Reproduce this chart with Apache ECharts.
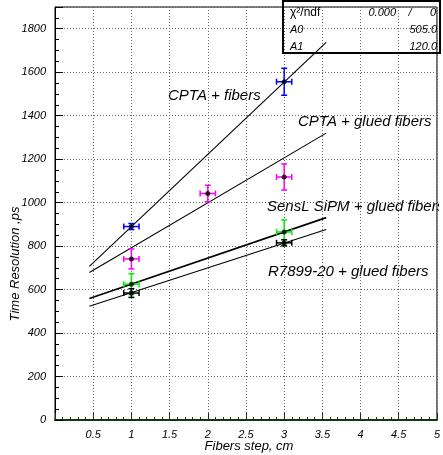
<!DOCTYPE html>
<html>
<head>
<meta charset="utf-8">
<script src="https://cdn.jsdelivr.net/npm/echarts@6/dist/echarts.min.js"></script>
<style>
  html, body { margin: 0; padding: 0; background: #fff; }
  #chart { width: 443px; height: 455px; }
</style>
</head>
<body>
<div id="chart"></div>
<script>
// Measured time resolution vs fibers step (x errors are the step uncertainty)
const xErr = 0.1;

const cptaFibersX = [1, 3];
const cptaFibersY = [890, 1556];
const cptaFibersErr = [14, 62];

const cptaGluedX = [1, 2, 3];
const cptaGluedY = [741, 1042, 1118];
const cptaGluedErr = [46, 38, 60];

const senslX = [1, 3];
const senslY = [625, 865];
const senslErr = [48, 55];

const r7899X = [1, 3];
const r7899Y = [584, 815];
const r7899Err = [20, 14];

// Linear fits  t = A0 + A1 * step, drawn over the fit range
const fitRange = [0.45, 3.55];
const fitCptaFibers = { A0: 557.0, A1: 332.5 };
const fitCptaGlued = { A0: 585.0, A1: 207.0 };
const fitSensl = { A0: 505.0, A1: 120.0 };
const fitR7899 = { A0: 472.0, A1: 114.0 };

const xTicks = [0.5, 1, 1.5, 2, 2.5, 3, 3.5, 4, 4.5, 5];
const yTicks = [0, 200, 400, 600, 800, 1000, 1200, 1400, 1600, 1800];

const FONT = '"Liberation Sans", Arial, Helvetica, sans-serif';

function points(xs, ys, errs) {
  return xs.map((x, i) => [x, ys[i], xErr, errs[i]]);
}
function fitLine(p) {
  return fitRange.map(x => [x, p.A0 + p.A1 * x]);
}

function errorBars(color) {
  return function (params, api) {
    const x = api.value(0), y = api.value(1), ex = api.value(2), ey = api.value(3);
    const l = api.coord([x - ex, y]);
    const r = api.coord([x + ex, y]);
    const t = api.coord([x, y + ey]);
    const b = api.coord([x, y - ey]);
    const cap = 3;
    const style = { stroke: color, lineWidth: 1.5 };
    const seg = (x1, y1, x2, y2) => ({ type: 'line', shape: { x1, y1, x2, y2 }, style });
    return {
      type: 'group',
      children: [
        seg(l[0], l[1], r[0], r[1]),
        seg(t[0], t[1], b[0], b[1]),
        seg(l[0], l[1] - cap, l[0], l[1] + cap),
        seg(r[0], r[1] - cap, r[0], r[1] + cap),
        seg(t[0] - cap, t[1], t[0] + cap, t[1]),
        seg(b[0] - cap, b[1], b[0] + cap, b[1])
      ]
    };
  };
}

const groups = [
  { name: 'CPTA + fibers', data: points(cptaFibersX, cptaFibersY, cptaFibersErr), color: '#0000ff', fit: fitCptaFibers, fitWidth: 1.1 },
  { name: 'CPTA + glued fibers', data: points(cptaGluedX, cptaGluedY, cptaGluedErr), color: '#ff00ff', fit: fitCptaGlued, fitWidth: 1.1 },
  { name: 'SensL SiPM + glued fibers', data: points(senslX, senslY, senslErr), color: '#00ee00', fit: fitSensl, fitWidth: 1.6 },
  { name: 'R7899-20 + glued fibers', data: points(r7899X, r7899Y, r7899Err), color: '#000000', fit: fitR7899, fitWidth: 1.1 }
];

const series = [];
groups.forEach(g => {
  series.push({
    type: 'line', data: fitLine(g.fit), showSymbol: false, silent: true,
    lineStyle: { color: '#000', width: g.fitWidth }, z: 3
  });
});
groups.forEach(g => {
  series.push({
    type: 'custom', data: g.data, renderItem: errorBars(g.color), z: 4,
    encode: { x: 0, y: 1 }
  });
});
groups.forEach(g => {
  series.push({
    type: 'scatter', data: g.data.map(d => [d[0], d[1]]), symbol: 'circle', symbolSize: 5,
    itemStyle: { color: '#000' }, z: 5
  });
});

const chart = echarts.init(document.getElementById('chart'), null, { renderer: 'canvas' });

const labelFont = 'italic 15px ' + FONT;
const statStyle = { font: 'italic 11px ' + FONT, fill: '#000' };

// curve captions, clipped at the right frame edge
const captions = [
  { text: 'CPTA + fibers', left: 168, top: 88 },
  { text: 'CPTA + glued fibers', left: 298, top: 114 },
  { text: 'SensL SiPM + glued fibers', left: 267, top: 199 },
  { text: 'R7899-20 + glued fibers', left: 268, top: 264 }
];

chart.setOption({
  animation: false,
  backgroundColor: '#fff',
  grid: { left: 55, right: 5, top: 7, bottom: 35, show: true, borderColor: '#000', borderWidth: 1, backgroundColor: 'transparent' },
  xAxis: {
    type: 'value', min: 0, max: 5, interval: 0.5,
    axisLine: { show: true, onZero: false, lineStyle: { color: '#123812', width: 2 } },
    axisTick: { show: true, inside: true, length: 7, lineStyle: { color: '#123812' } },
    minorTick: { show: true, splitNumber: 5, length: 3, lineStyle: { color: '#123812' } },
    axisLabel: {
      margin: 9, color: '#000', fontFamily: FONT, fontStyle: 'italic', fontSize: 11,
      formatter: v => (xTicks.indexOf(v) >= 0 ? String(v) : '')
    },
    splitLine: { show: true, lineStyle: { color: '#666', type: [1, 2], width: 1 } }
  },
  yAxis: {
    type: 'value', min: 0, max: 1900, interval: 200,
    axisLine: { show: true, onZero: false, lineStyle: { color: '#000', width: 1 } },
    axisTick: { show: true, inside: true, length: 8, lineStyle: { color: '#000' } },
    minorTick: { show: true, splitNumber: 4, length: 4, lineStyle: { color: '#000' } },
    axisLabel: {
      margin: 9, color: '#000', fontFamily: FONT, fontStyle: 'italic', fontSize: 11,
      formatter: v => (yTicks.indexOf(v) >= 0 ? String(v) : '')
    },
    splitLine: { show: true, lineStyle: { color: '#666', type: [1, 2], width: 1 } }
  },
  graphic: [
    {
      type: 'group', x: 0, y: 0, z: 10,
      clipPath: { type: 'rect', shape: { x: 0, y: 0, width: 439, height: 455 } },
      children: captions.map(c => ({
        type: 'text', x: c.left, y: c.top,
        style: { text: c.text, font: labelFont, fill: '#000' }
      }))
    },
    {
      type: 'text', x: 15, y: 264, rotation: Math.PI / 2,
      style: { text: 'Time Resolution ,ps', font: 'italic 13px ' + FONT, fill: '#000', align: 'center', verticalAlign: 'middle' }, z: 10
    },
    {
      type: 'text', x: 249, y: 446,
      style: { text: 'Fibers step, cm', font: 'italic 13px ' + FONT, fill: '#000', align: 'center', verticalAlign: 'middle' }, z: 10
    },
    // fit statistics box
    { type: 'rect', shape: { x: 283, y: 1, width: 157, height: 52 }, style: { fill: 'none', stroke: '#000', lineWidth: 2 }, z: 10 },
    { type: 'text', x: 290, y: 13, style: { text: 'χ²/ndf', font: '12px ' + FONT, fill: '#000', align: 'left', verticalAlign: 'middle' }, z: 10 },
    { type: 'text', x: 396, y: 13, style: Object.assign({ text: '0.000', align: 'right', verticalAlign: 'middle' }, statStyle), z: 10 },
    { type: 'text', x: 410, y: 13, style: Object.assign({ text: '/', align: 'center', verticalAlign: 'middle' }, statStyle), z: 10 },
    { type: 'text', x: 436, y: 13, style: Object.assign({ text: '0', align: 'right', verticalAlign: 'middle' }, statStyle), z: 10 },
    { type: 'text', x: 290, y: 30, style: Object.assign({ text: 'A0', align: 'left', verticalAlign: 'middle' }, statStyle), z: 10 },
    { type: 'text', x: 437, y: 30, style: Object.assign({ text: fitSensl.A0.toFixed(1), align: 'right', verticalAlign: 'middle' }, statStyle), z: 10 },
    { type: 'text', x: 290, y: 47, style: Object.assign({ text: 'A1', align: 'left', verticalAlign: 'middle' }, statStyle), z: 10 },
    { type: 'text', x: 437, y: 47, style: Object.assign({ text: fitSensl.A1.toFixed(1), align: 'right', verticalAlign: 'middle' }, statStyle), z: 10 }
  ],
  series: series
});
</script>
</body>
</html>
